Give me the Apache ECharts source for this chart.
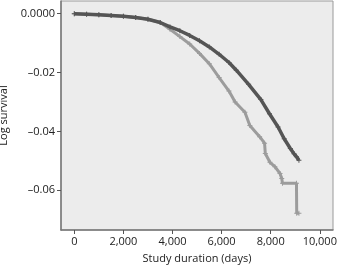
<!DOCTYPE html>
<html>
<head>
<meta charset="utf-8">
<script src="https://cdn.jsdelivr.net/npm/echarts@6/dist/echarts.min.js"></script>
<style>
html,body{margin:0;padding:0;background:#fff;}
#chart{width:337px;height:266px;}
</style>
</head>
<body>
<div id="chart"></div>
<script>
// Days for darker series (group A)
const darkDays = [0,500,1000,1500,2000,2500,3000,3500,3900,4300,4700,5100,5500,5900,6300,6600,7100,7600,7950,8300,8550,8800,8950,9050,9150];
const darkLogSurv = [0,-0.0002,-0.0004,-0.0006,-0.0009,-0.0013,-0.0019,-0.0030,-0.0045,-0.0058,-0.0074,-0.0092,-0.0113,-0.0138,-0.0166,-0.0192,-0.0240,-0.0292,-0.0340,-0.0385,-0.0425,-0.0458,-0.0476,-0.0486,-0.0498];
// Days for lighter series (group B)
const lightDays = [0,500,1000,1500,2000,2500,3000,3500,3900,4300,4700,5100,5500,5900,6300,6550,6950,7150,7550,7750,7780,7970,8170,8380,8450,8480,9050,9060,9150];
const lightLogSurv = [0,-0.0002,-0.0004,-0.0006,-0.0009,-0.0013,-0.0019,-0.0030,-0.0053,-0.0078,-0.0103,-0.0135,-0.0170,-0.0217,-0.0263,-0.0300,-0.0335,-0.0380,-0.0418,-0.0440,-0.0475,-0.0505,-0.0520,-0.0543,-0.0560,-0.0576,-0.0576,-0.0678,-0.0678];

const xTickValues = [0,2000,4000,6000,8000,10000];
const xTickLabels = ['0','2,000','4,000','6,000','8,000','10,000'];
const yTickValues = [0,-0.02,-0.04,-0.06];
const yTickLabels = ['0.0000','\u20130.02','\u20130.04','\u20130.06'];

const xName = 'Study duration (days)';
const yName = 'Log survival';

function zip(a,b){return a.map((v,i)=>[v,b[i]]);}
const plus = 'path://M4,0H6V4H10V6H6V10H4V6H0V4H4Z';
const font = 'Open Sans';

const chart = echarts.init(document.getElementById('chart'));
chart.setOption({
  animation:false,
  backgroundColor:'#fff',
  grid:{left:61,right:4,top:1,bottom:36,outerBoundsMode:'none',containLabel:false,show:true,backgroundColor:'#ececec',borderColor:'#9a9a9a',borderWidth:1},
  xAxis:{
    type:'value', min:-542, max:10538,
    name:xName, nameLocation:'middle', nameGap:23,
    nameTextStyle:{fontFamily:font,fontSize:11,color:'#222'},
    axisLine:{show:true,onZero:false,lineStyle:{color:'#777',width:1.5}},
    axisTick:{show:true,length:4,customValues:xTickValues,lineStyle:{color:'#555'}},
    axisLabel:{customValues:xTickValues,fontFamily:font,fontSize:11,color:'#222',margin:6,
      formatter:v=>{const i=xTickValues.indexOf(v);return i>=0?xTickLabels[i]:'';}},
    splitLine:{show:false}
  },
  yAxis:{
    type:'value', min:-0.0735, max:0.0043,
    name:yName, nameLocation:'middle', nameGap:48, nameRotate:90,
    nameTextStyle:{fontFamily:font,fontSize:11,color:'#222'},
    axisLine:{show:true,onZero:false,lineStyle:{color:'#777',width:1.5}},
    axisTick:{show:true,length:4,customValues:yTickValues,lineStyle:{color:'#555'}},
    axisLabel:{customValues:yTickValues,fontFamily:font,fontSize:11,color:'#222',margin:6,
      formatter:v=>{let i=yTickValues.findIndex(t=>Math.abs(t-v)<1e-9);return i>=0?yTickLabels[i]:'';}},
    splitLine:{show:false}
  },
  series:[
    {type:'line',data:zip(lightDays,lightLogSurv),symbol:plus,symbolSize:5,showAllSymbol:true,
     itemStyle:{color:'#9c9c9c'},lineStyle:{color:'#9c9c9c',width:3},z:2},
    {type:'line',data:zip(darkDays,darkLogSurv),symbol:plus,symbolSize:5,showAllSymbol:true,
     itemStyle:{color:'#555'},lineStyle:{color:'#555',width:3.5},z:3}
  ]
});
</script>
</body>
</html>
